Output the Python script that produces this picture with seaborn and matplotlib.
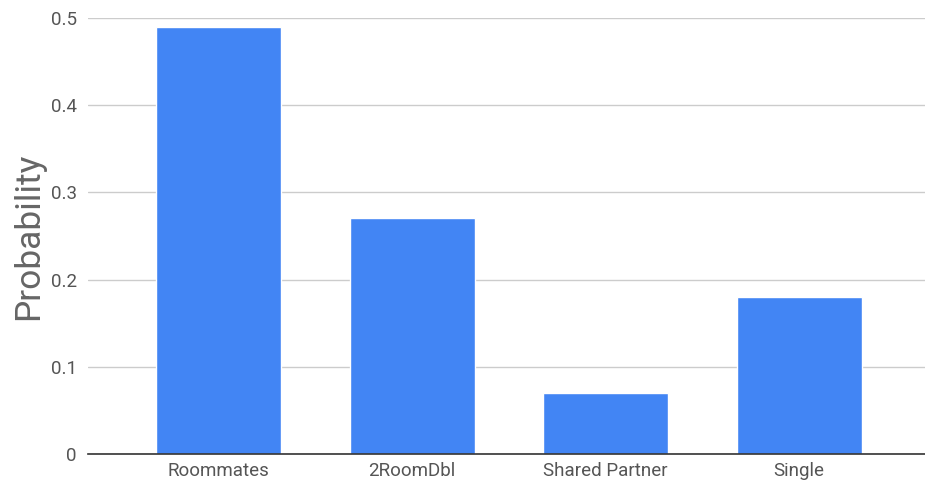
import matplotlib
matplotlib.use("Agg")
import matplotlib.pyplot as plt
import seaborn as sns
import pandas as pd

categories = ["Roommates", "2RoomDbl", "Shared Partner", "Single"]
probabilities = [0.49, 0.27, 0.07, 0.18]
y_ticks = [0, 0.1, 0.2, 0.3, 0.4, 0.5]
y_tick_labels = ["0", "0.1", "0.2", "0.3", "0.4", "0.5"]

df = pd.DataFrame({"category": categories, "probability": probabilities})

sns.set_style("white")
plt.rcParams['font.family'] = ['Roboto', 'DejaVu Sans']

fig = plt.figure(figsize=(9.25, 4.82), dpi=100)
ax = fig.add_axes([0.095, 0.058, 0.905, 0.905])

sns.barplot(data=df, x="category", y="probability", color="#4285F4",
            saturation=1, width=0.646, ax=ax, zorder=3)

ax.set_xlim(-0.676, 3.65)
ax.set_ylim(0, 0.5)
ax.set_yticks(y_ticks)
ax.set_yticklabels(y_tick_labels)
ax.yaxis.grid(True, color="#cccccc", linewidth=1, zorder=0)
ax.set_axisbelow(True)

for s in ["top", "right", "left"]:
    ax.spines[s].set_visible(False)
ax.spines["bottom"].set_color("#333333")
ax.spines["bottom"].set_linewidth(1.2)
ax.spines["bottom"].set_zorder(4)

ax.tick_params(axis="both", length=0, colors="#555555", labelsize=13.5)
ax.tick_params(axis="y", pad=8)
ax.tick_params(axis="x", pad=6)

ax.set_xlabel("")
ax.set_ylabel("Probability", fontsize=25.5, color="#666666", labelpad=4)

fig.savefig("out.png", dpi=100)
